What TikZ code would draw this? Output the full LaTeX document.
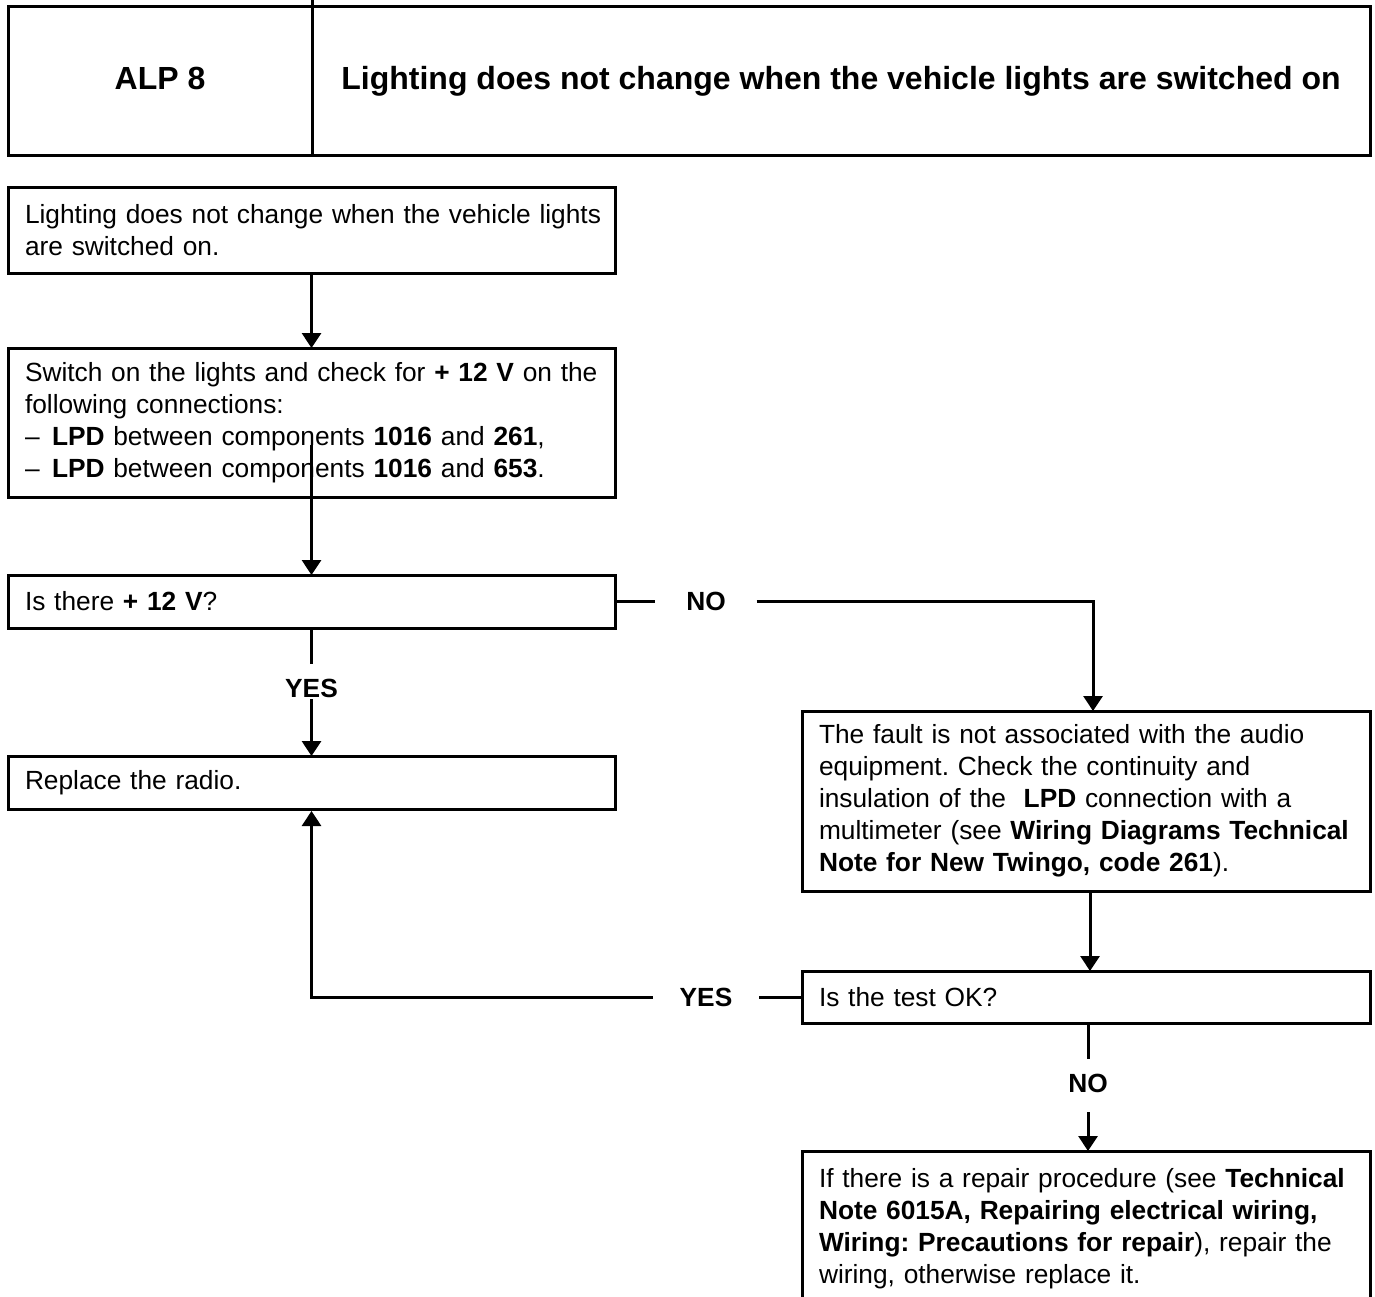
\documentclass[tikz,border=0pt]{standalone}
\usepackage{fontspec}
\setmainfont{Liberation Sans}
\usetikzlibrary{arrows.meta}
\newcommand{\bodyfont}{\fontsize{26.3}{32}\selectfont\frenchspacing}
\newcommand{\dashitem}{\makebox[27pt][l]{–}}
\newcommand{\oneline}[1]{\mbox{#1}}
\begin{document}
\begin{tikzpicture}[x=1pt,y=-1pt,
  cell/.style={draw, line width=3pt, outer sep=0pt, inner sep=0pt, anchor=north west,
    text height=23pt, text depth=7pt, font=\fontsize{32}{38}\selectfont\bfseries},
  box/.style={draw, line width=3pt, outer sep=0pt, inner xsep=17pt, inner ysep=0pt,
    anchor=north west, align=left, font=\bodyfont},
  leftbox/.style={box, text width=573pt, minimum width=607pt},
  rightbox/.style={box, text width=534pt, minimum width=568pt},
  con/.style={line width=3pt},
  arr/.style={con, -{Triangle[length=15pt,width=19pt]}},
  hlbl/.style={font=\bodyfont\bfseries, inner xsep=31pt, inner ysep=0pt, outer sep=0pt},
  vlbl/.style={font=\bodyfont\bfseries, inner xsep=0pt, inner ysep=2pt, outer sep=0pt,
    text height=31pt, text depth=0pt, anchor=base},
]
\useasboundingbox (0,0) rectangle (1375,1297);
\fill[white] (0,0) rectangle (1375,1297);

% header
\node[cell, minimum width=304pt, minimum height=149pt] (h1) at (8,7) {ALP 8};
\node[cell, minimum width=1058pt, minimum height=149pt] (h2) at (312,7)
  {Lighting does not change when the vehicle lights are switched on};
\draw[con] (h1.north east) -- ++(0,-7);

% left column
\node[leftbox, minimum height=85pt] (b1) at (8,188)
  {\oneline{Lighting does not change when the vehicle lights}\\\oneline{are switched on.}};
\node[leftbox, minimum height=149pt] (b2) at (8,348)
  {\oneline{Switch on the lights and check for \textbf{+ 12 V} on the}\\
   \oneline{following connections:}\\
   \oneline{\dashitem\textbf{LPD} between components \textbf{1016} and \textbf{261},}\\
   \oneline{\dashitem\textbf{LPD} between components \textbf{1016} and \textbf{653}.}};
\node[leftbox, minimum height=53pt] (b3) at (8,575)
  {Is there \textbf{+ 12 V}?};
\node[leftbox, minimum height=53pt] (b4) at (8,756)
  {Replace the radio.};

% right column
\node[rightbox, minimum height=180pt] (b5) at (802,711)
  {\oneline{The fault is not associated with the audio}\\
   \oneline{equipment. Check the continuity and}\\
   \oneline{insulation of the~~\textbf{LPD} connection with a}\\
   \oneline{multimeter (see \textbf{Wiring Diagrams Technical}}\\
   \oneline{\textbf{Note for New Twingo, code 261}).}};
\node[rightbox, minimum height=52pt] (b6) at (802,971)
  {Is the test OK?};
\node[anchor=north west, inner xsep=17pt, inner ysep=17pt, outer sep=0pt,
  text width=534pt, align=left, font=\bodyfont] (b7) at (802,1151)
  {\oneline{If there is a repair procedure (see \textbf{Technical}}\\
   \oneline{\textbf{Note 6015A, Repairing electrical wiring,}}\\
   \oneline{\textbf{Wiring: Precautions for repair}), repair the}\\
   \oneline{wiring, otherwise replace it.}};
\draw[con] ([yshift=-170pt]b7.north west) -- (b7.north west) -- (b7.north east)
  -- ([yshift=-170pt]b7.north east);

% labels
\node[hlbl] (no1) at (706,601.5) {NO};
\node[vlbl] (yes1) at (311.5,697) {YES};
\node[hlbl, inner xsep=27pt] (yes2) at (706,997) {YES};
\node[vlbl, text depth=18pt] (no2) at (1088,1092) {NO};

% connectors
\coordinate (c2) at (311.5,445);
\draw[arr] (b1.south) -- (b2.north);
\draw[arr] (c2) -- (b3.north);
\draw[con] (b3.south) -- (yes1.north);
\draw[arr] (yes1.south) -- (b4.north);
\draw[con] (b3.east) -- (no1.west);
\draw[arr] (no1.east) -| ([xshift=7pt]b5.north);
\draw[arr] ([xshift=4pt]b5.south) -- ([xshift=4pt]b6.north);
\draw[con] (b6.west) -- (yes2.east);
\draw[arr, shorten >=2pt] (yes2.west) -| (b4.south);
\draw[con] ([xshift=2pt]b6.south) -- (no2.north);
\draw[arr] (no2.south) -- (no2.south |- b7.north);
\end{tikzpicture}
\end{document}
